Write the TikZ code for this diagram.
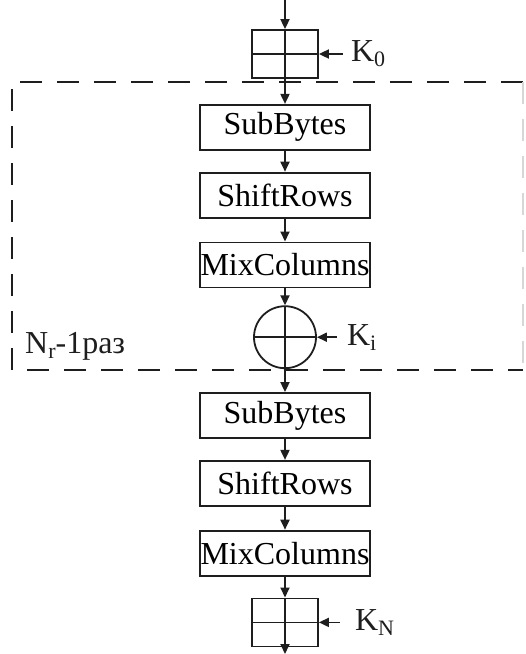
\documentclass[tikz,border=0pt]{standalone}
\usepackage{fontspec}
\setmainfont{Liberation Serif}
\usepackage{tikz}
\usetikzlibrary{positioning, arrows.meta}
\definecolor{lineColor}{RGB}{30, 30, 30}
\definecolor{faintColor}{RGB}{215, 215, 215}
\newcommand{\lowidx}[1]{\raisebox{-0.35ex}{\fontsize{22}{22}\selectfont #1}}
\tikzset{
    aes_box/.style={
        draw=lineColor,
        line width=1.8pt,
        minimum width=170pt,
        minimum height=45pt,
        inner sep=0pt,
        font=\fontsize{32}{38}\selectfont
    },
    key_grid/.style={
        draw=lineColor,
        line width=1.8pt,
        minimum width=66pt,
        minimum height=48pt,
        path picture={
            \draw[line width=1.8pt, lineColor]
                (path picture bounding box.north) -- (path picture bounding box.south)
                (path picture bounding box.west) -- (path picture bounding box.east);
        }
    },
    xor_node/.style={
        key_grid,
        circle,
        inner sep=0pt,
        minimum size=62pt
    },
    aes_edge/.style={
        -{Triangle[length=10pt, width=9pt]},
        line width=1.8pt,
        draw=lineColor
    },
    key_label/.style={
        anchor=west,
        inner sep=0pt,
        text=lineColor,
        font=\fontsize{32}{38}\selectfont
    },
    round_frame/.style={
        dash pattern=on 22pt off 15pt,
        line width=1.8pt,
        draw=lineColor
    }
}

\begin{document}
\begin{tikzpicture}[x=1pt, y=-1pt]
    \useasboundingbox (0,0) rectangle (526,654);

    % initial key addition
    \coordinate (src) at (285,0);
    \node[key_grid] (k0) at (285,54) {};

    % Nr-1 rounds
    \node[aes_box, below=25pt of k0] (sb1) {SubBytes};
    \node[aes_box, below=21pt of sb1] (sr1) {ShiftRows};
    \node[aes_box, below=23pt of sr1] (mc1) {MixColumns};
    \node[xor_node, below=17pt of mc1] (xr) {};

    % final round
    \node[aes_box, below=23pt of xr] (sb2) {SubBytes};
    \node[aes_box, below=21pt of sb2] (sr2) {ShiftRows};
    \node[aes_box, below=23pt of sr2] (mc2) {MixColumns};
    \node[key_grid, below=21pt of mc2] (kn) {};
    \coordinate (dst) at (285,654);

    % round keys
    \coordinate[right=24pt of k0.east] (k0in);
    \coordinate[right=20pt of xr.east] (kiin);
    \coordinate[right=21pt of kn.east] (knin);
    \node[key_label, right=8pt of k0in] (k0lbl) {K\lowidx{0}};
    \node[key_label, right=10pt of kiin] (kilbl) {K\lowidx{i}};
    \node[key_label, right=15pt of knin] (knlbl) {K\lowidx{N}};

    \draw[aes_edge] (src) -- (k0);
    \draw[aes_edge] (k0) -- (sb1);
    \draw[aes_edge] (sb1) -- (sr1);
    \draw[aes_edge] (sr1) -- (mc1);
    \draw[aes_edge] (mc1) -- (xr);
    \draw[aes_edge] (xr) -- (sb2);
    \draw[aes_edge] (sb2) -- (sr2);
    \draw[aes_edge] (sr2) -- (mc2);
    \draw[aes_edge] (mc2) -- (kn);
    \draw[aes_edge] (kn) -- (dst);
    \draw[aes_edge] (k0in) -- (k0.east);
    \draw[aes_edge] (kiin) -- (xr.east);
    \draw[aes_edge] (knin) -- (kn.east);

    % loop frame
    \draw[round_frame] (523,82) -- (12,82) -- (12,370) -- (523,370);
    \draw[round_frame, draw=faintColor] (523,82) -- (523,370);
    \node[key_label, anchor=base west] (rounds) at (25,353) {N\lowidx{r}-1раз};
\end{tikzpicture}
\end{document}
